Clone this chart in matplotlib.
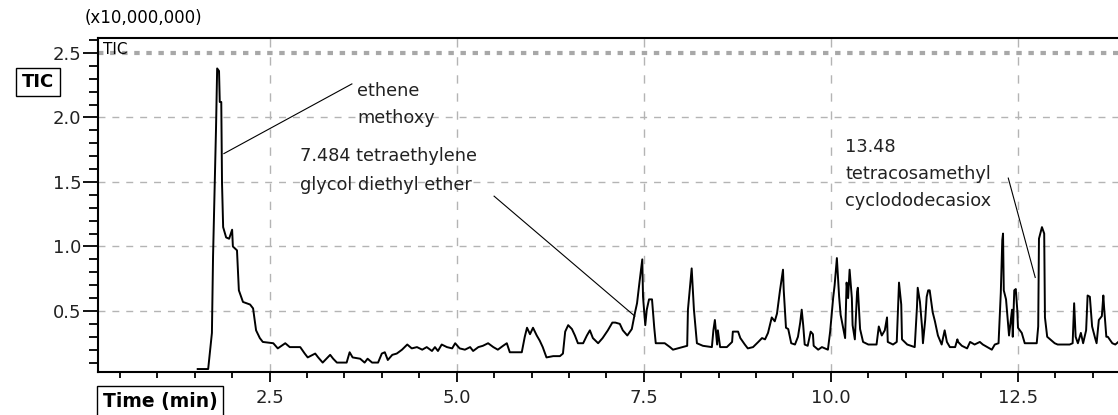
import numpy as np
import matplotlib
matplotlib.use('Agg')
import matplotlib.pyplot as plt
from matplotlib.ticker import MultipleLocator

# TIC trace (x10,000,000)
time_min = [1.54, 1.68, 1.73, 1.745, 1.785, 1.80, 1.825, 1.835, 1.855, 1.865,
            1.88, 1.92, 1.96, 2.00, 2.01, 2.065, 2.09, 2.145, 2.24, 2.28,
            2.32, 2.37, 2.41, 2.55, 2.61, 2.71, 2.77,
            2.91, 2.97, 3.01, 3.11, 3.15, 3.21, 3.31, 3.35, 3.40, 3.53,
            3.57, 3.61, 3.71, 3.77, 3.81, 3.87, 3.95, 4.00, 4.04, 4.08,
            4.14, 4.20, 4.27, 4.34, 4.40, 4.47, 4.54, 4.60, 4.67, 4.71,
            4.75, 4.80, 4.87, 4.94, 4.98, 5.04, 5.11, 5.18, 5.22, 5.29,
            5.35, 5.42, 5.49, 5.55, 5.62, 5.67, 5.71, 5.87, 5.91, 5.94,
            5.98, 6.02, 6.07, 6.11, 6.15, 6.20, 6.29, 6.38,
            6.42, 6.45, 6.49, 6.54, 6.58, 6.62, 6.69, 6.74, 6.78, 6.82,
            6.89, 6.95, 7.02, 7.08, 7.12, 7.18, 7.22, 7.28, 7.34, 7.38,
            7.41, 7.44, 7.48, 7.49, 7.52, 7.54, 7.57, 7.61, 7.64, 7.66,
            7.78, 7.85, 7.89, 8.08, 8.09, 8.14, 8.17, 8.21, 8.29, 8.41,
            8.43, 8.45, 8.48, 8.49, 8.52, 8.61, 8.68, 8.69, 8.76, 8.79,
            8.85, 8.89, 8.96, 9.03, 9.08, 9.12, 9.16, 9.21, 9.25, 9.28,
            9.32, 9.36, 9.37, 9.40, 9.43, 9.47, 9.52, 9.56,
            9.59, 9.61, 9.63, 9.65, 9.69, 9.73, 9.76, 9.77, 9.83, 9.88,
            9.92, 9.96, 9.99, 10.03, 10.05, 10.08, 10.11, 10.13, 10.16, 10.19,
            10.21, 10.23, 10.25, 10.28, 10.29, 10.32, 10.35, 10.36, 10.39, 10.43,
            10.50, 10.61, 10.64, 10.68, 10.72, 10.75, 10.76, 10.83, 10.88, 10.91,
            10.94, 10.95, 11.02, 11.12, 11.15, 11.16, 11.19, 11.22, 11.23, 11.26,
            11.28, 11.30, 11.32, 11.36, 11.39, 11.43, 11.48, 11.52, 11.55, 11.59,
            11.66, 11.69, 11.70, 11.75, 11.82, 11.86,
            11.92, 11.99, 12.03, 12.15, 12.19, 12.24, 12.27, 12.29, 12.30, 12.31,
            12.34, 12.37, 12.38, 12.42, 12.43, 12.45, 12.47, 12.49, 12.50, 12.55,
            12.59, 12.75, 12.77, 12.78, 12.82, 12.85, 12.86, 12.89, 12.99, 13.03,
            13.19, 13.23, 13.25, 13.27, 13.30, 13.34, 13.37, 13.41, 13.43, 13.46,
            13.49, 13.53, 13.55, 13.58, 13.62, 13.64, 13.65, 13.68, 13.70, 13.76,
            13.80, 13.84]
tic = [0.05, 0.05, 0.33, 0.92, 1.92, 2.38, 2.36, 2.12, 2.12, 1.49,
       1.15, 1.07, 1.06, 1.13, 1.00, 0.97, 0.66, 0.57, 0.55, 0.52,
       0.35, 0.29, 0.26, 0.25, 0.21, 0.25, 0.22,
       0.22, 0.17, 0.14, 0.17, 0.14, 0.10, 0.16, 0.13, 0.10, 0.10,
       0.18, 0.14, 0.13, 0.10, 0.13, 0.10, 0.10, 0.17, 0.18, 0.12,
       0.16, 0.17, 0.20, 0.24, 0.21, 0.22, 0.20, 0.22, 0.19, 0.22,
       0.19, 0.24, 0.22, 0.21, 0.25, 0.21, 0.20, 0.22, 0.19, 0.22,
       0.23, 0.25, 0.22, 0.20, 0.23, 0.25, 0.18, 0.18, 0.30, 0.37,
       0.32, 0.37, 0.31, 0.27, 0.22, 0.14, 0.15, 0.15,
       0.17, 0.34, 0.39, 0.36, 0.31, 0.25, 0.25, 0.31, 0.35, 0.29,
       0.25, 0.29, 0.35, 0.41, 0.41, 0.40, 0.35, 0.31, 0.36, 0.48,
       0.56, 0.71, 0.90, 0.61, 0.39, 0.51, 0.59, 0.59, 0.37, 0.25,
       0.25, 0.22, 0.20, 0.23, 0.51, 0.83, 0.51, 0.25, 0.23, 0.22,
       0.35, 0.43, 0.24, 0.35, 0.22, 0.22, 0.26, 0.34, 0.34, 0.29,
       0.24, 0.21, 0.22, 0.26, 0.29, 0.28, 0.33, 0.45, 0.42, 0.48,
       0.66, 0.82, 0.66, 0.37, 0.36, 0.25, 0.24, 0.30,
       0.41, 0.51, 0.39, 0.24, 0.23, 0.34, 0.32, 0.23, 0.20, 0.22,
       0.21, 0.20, 0.34, 0.60, 0.70, 0.91, 0.61, 0.47, 0.38, 0.29,
       0.72, 0.60, 0.82, 0.60, 0.39, 0.28, 0.65, 0.68, 0.36, 0.26,
       0.24, 0.24, 0.38, 0.31, 0.35, 0.45, 0.26, 0.24, 0.26, 0.72,
       0.55, 0.28, 0.24, 0.22, 0.53, 0.68, 0.57, 0.36, 0.25, 0.43,
       0.61, 0.66, 0.66, 0.49, 0.42, 0.31, 0.24, 0.35, 0.26, 0.22,
       0.22, 0.28, 0.26, 0.23, 0.21, 0.26,
       0.24, 0.26, 0.24, 0.20, 0.24, 0.25, 0.64, 1.05, 1.10, 0.66,
       0.59, 0.38, 0.31, 0.51, 0.30, 0.66, 0.67, 0.51, 0.37, 0.33,
       0.25, 0.25, 0.38, 1.06, 1.15, 1.10, 0.45, 0.30, 0.25, 0.24,
       0.24, 0.25, 0.56, 0.30, 0.25, 0.33, 0.25, 0.35, 0.62, 0.61,
       0.38, 0.29, 0.25, 0.43, 0.46, 0.62, 0.53, 0.30, 0.30, 0.25,
       0.24, 0.26]

# peak labels: text lines, leader line start (text side) and end (peak side)
label_lines = [["ethene", "methoxy"],
               ["7.484 tetraethylene", "glycol diethyl ether"],
               ["13.48", "tetracosamethyl", "cyclododecasiox"]]
leader_from = [(3.60, 2.26), (5.50, 1.39), (12.37, 1.53)]
leader_to = [(1.89, 1.72), (7.38, 0.46), (12.73, 0.76)]

W, H = 1118, 415
fig = plt.figure(figsize=(W / 100, H / 100), dpi=100)
ax = fig.add_axes([98 / W, 43 / H, 1020 / W, 334 / H])

ax.plot(time_min, tic, color='black', lw=1.4)

ax.set_xlim(0.208, 13.836)
ax.set_ylim(0.027, 2.616)
ax.set_xticks([2.5, 5.0, 7.5, 10.0, 12.5])
ax.set_xticklabels(['2.5', '5.0', '7.5', '10.0', '12.5'])
ax.set_yticks([0.5, 1.0, 1.5, 2.0, 2.5])
ax.set_yticklabels(['0.5', '1.0', '1.5', '2.0', '2.5'])
ax.xaxis.set_minor_locator(MultipleLocator(0.5))
ax.yaxis.set_minor_locator(MultipleLocator(0.1))

ax.tick_params(axis='y', which='major', direction='out', length=11, width=1.3,
               labelsize=13, pad=1, color='black', labelcolor='#222222')
ax.tick_params(axis='y', which='minor', direction='out', length=6.5, width=1.3)
ax.tick_params(axis='x', which='major', direction='out', length=7, width=1.3,
               labelsize=13, pad=5, labelcolor='#222222')
ax.tick_params(axis='x', which='minor', direction='out', length=4, width=1.3)

for side in ['left', 'bottom', 'top']:
    ax.spines[side].set_linewidth(1.5)
    ax.spines[side].set_color('black')
ax.spines['right'].set_visible(False)

ax.xaxis.grid(True, which='major', color='#b4b4b4', lw=1.0, linestyle=(0, (6, 7)))
ax.yaxis.grid(True, which='major', color='#b4b4b4', lw=1.0, linestyle=(0, (5, 5)))
top_grid = ax.yaxis.get_gridlines()[-1]
top_grid.set_linewidth(3)
top_grid.set_linestyle((0, (1.3, 1.6)))
top_grid.set_color('#a8a8a8')

# leader lines and their labels
for (x0, y0), (x1, y1) in zip(leader_from, leader_to):
    ax.plot([x0, x1], [y0, y1], color='black', lw=0.8)

label_pos = [(357, 96, 27), (300, 161, 28.5), (845, 152, 27)]
for lines, (px, py, step) in zip(label_lines, label_pos):
    for i, line in enumerate(lines):
        fig.text(px / W, 1 - (py + i * step) / H, line, fontsize=12.8,
                 ha='left', va='baseline', color='#222222')

ax.text(0.27, 2.53, 'TIC', fontsize=11, va='center', ha='left')

fig.text(85 / W, 1 - 18 / H, '(x10,000,000)', fontsize=12, ha='left', va='center')
fig.text(38 / W, 1 - 82 / H, 'TIC', fontsize=13, fontweight='bold', ha='center',
         va='center', bbox=dict(boxstyle='square,pad=0.3', fc='white', ec='black', lw=1))
fig.text(160 / W, 1 - 401 / H, 'Time (min)', fontsize=13.5, fontweight='bold',
         ha='center', va='center',
         bbox=dict(boxstyle='square,pad=0.3', fc='white', ec='black', lw=1))

fig.savefig('out.png', dpi=100)
